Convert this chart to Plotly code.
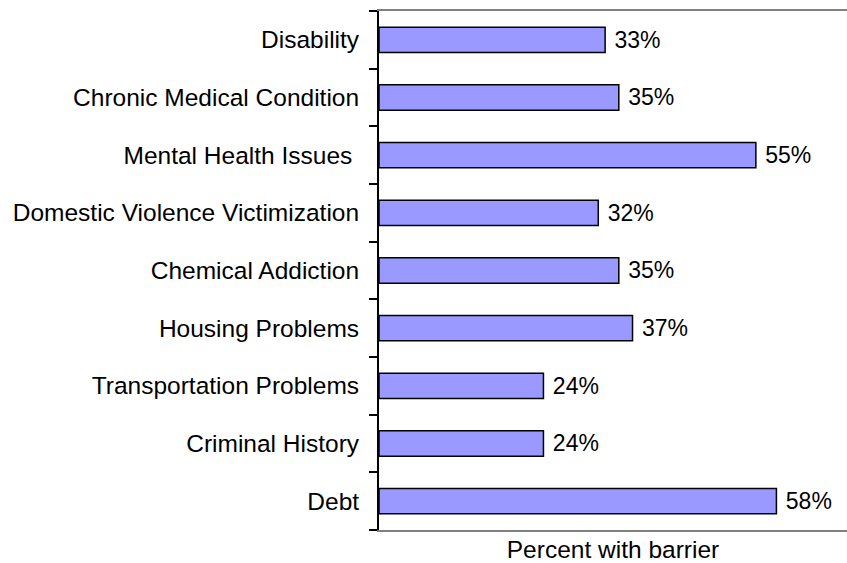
import plotly.graph_objects as go

# Barriers reported, top to bottom (label text as printed, incl. trailing space)
categories = [
    "Disability",
    "Chronic Medical Condition",
    "Mental Health Issues ",
    "Domestic Violence Victimization",
    "Chemical Addiction",
    "Housing Problems",
    "Transportation Problems",
    "Criminal History",
    "Debt",
]
percent_values = [33, 35, 55, 32, 35, 37, 24, 24, 58]
axis_title = "Percent with barrier"

FONT = dict(family="Liberation Sans, Arial, sans-serif", size=24.5, color="black")

# SVG drops plain trailing spaces, so keep them as non-breaking spaces
tick_text = [c.rstrip() + "\u00a0" * (len(c) - len(c.rstrip())) for c in categories]

fig = go.Figure(
    go.Bar(
        x=percent_values,
        y=categories,
        orientation="h",
        marker=dict(color="#9999FF", line=dict(color="black", width=1.5)),
        width=0.44,
        text=[f"\u00a0{v}%" for v in percent_values],
        textposition="outside",
        textfont=FONT,
        cliponaxis=False,
    )
)

fig.update_layout(
    width=847,
    height=563,
    margin=dict(l=379, r=0, t=11, b=33),
    paper_bgcolor="white",
    plot_bgcolor="white",
    font=FONT,
    showlegend=False,
    xaxis=dict(
        range=[0, 68.3],
        showgrid=False,
        zeroline=False,
        showticklabels=False,
        ticks="",
        showline=True,
        linecolor="#808080",
        linewidth=2,
        mirror=True,
        title=dict(text=axis_title, standoff=11, font=FONT),
    ),
    yaxis=dict(
        type="category",
        autorange="reversed",
        tickmode="array",
        tickvals=categories,
        ticktext=tick_text,
        showgrid=False,
        zeroline=False,
        showline=True,
        linecolor="black",
        linewidth=2,
        ticks="outside",
        ticklen=8,
        tickwidth=2,
        tickcolor="black",
        tickson="boundaries",
        ticklabelstandoff=13,
        tickfont=FONT,
    ),
)

fig.write_html("out.html")
